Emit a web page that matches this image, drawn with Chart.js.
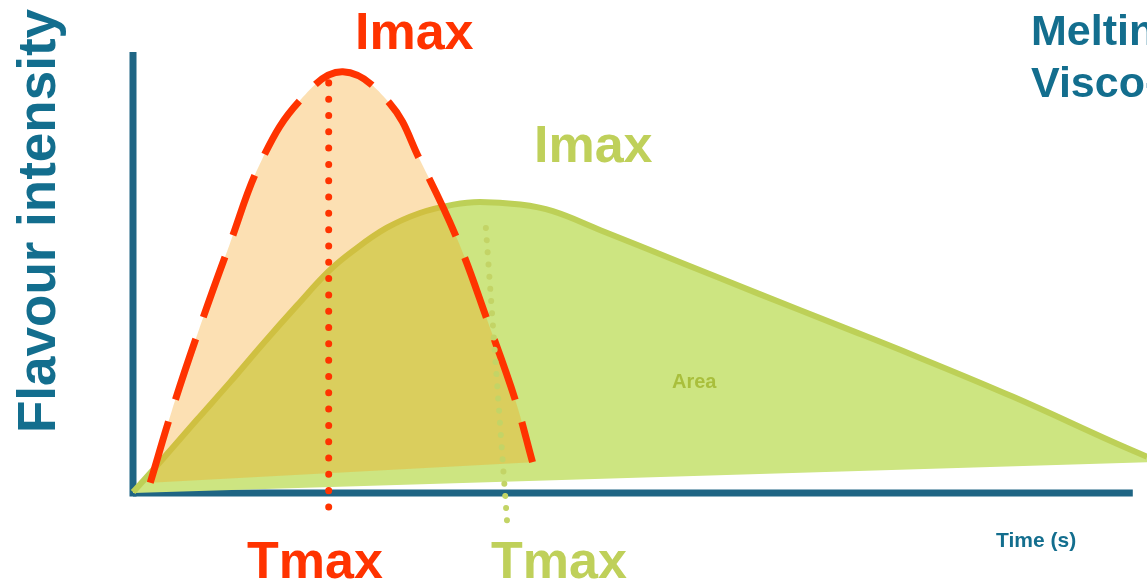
<!DOCTYPE html>
<html>
<head>
<meta charset="utf-8">
<script src="https://cdn.jsdelivr.net/npm/chart.js@4/dist/chart.umd.min.js"></script>
<style>
  html, body { margin: 0; padding: 0; background: #fff; }
  #wrap { width: 1147px; height: 582px; position: relative; }
</style>
</head>
<body>
<div id="wrap"><canvas id="flavourChart" width="1147" height="582"></canvas></div>
<script>
// Temporal profile: two flavour release curves (time vs intensity, arbitrary units 0-100)
const fastTime      = [1.7, 3.8, 6.5, 9.5, 12.7, 16.5, 20.7, 25.3, 28.3, 32.0, 35.0, 37.7, 39.4];
const fastIntensity = [2.3, 18.4, 37.0, 56.2, 75.5, 89.1, 95.5, 88.4, 75.5, 57.4, 38.8, 21.1, 7.0];

const slowTime      = [0, 3.0, 6.3, 9.6, 12.8, 16.2, 19.3, 21.7, 25.0, 28.3, 31.6, 34.2, 38.2, 41.4, 46.1, 53.9, 61.8, 69.7, 76.9, 86.8, 96.6, 100];
const slowIntensity = [0.2, 7.9, 16.6, 25.2, 33.8, 42.6, 50.3, 54.9, 60.1, 63.5, 65.4, 66.0, 65.4, 63.9, 59.6, 52.4, 45.1, 37.9, 31.3, 21.8, 11.6, 8.2];

// straight lines closing each area underneath
const fastBaseTime      = [1.7, 39.4];
const fastBaseIntensity = [2.3, 7.0];
const slowBaseTime      = [0, 100];
const slowBaseIntensity = [0, 7.0];

// Tmax markers (dotted verticals)
const fastTmaxTime = [19.3, 19.3];
const fastTmaxSpan = [93.0, -3.4];
const slowTmaxTime = [34.8, 36.9];
const slowTmaxSpan = [60.1, -6.8];

// axes
const xAxisTime = [0, 98.6];
const xAxisLevel = [0, 0];
const yAxisTime = [0, 0];
const yAxisLevel = [0, 99.2];

const RED = '#ff3300';
const GREEN = '#bfd05a';
const TEAL = '#136e8e';
const AXIS = '#1f6584';
const FONT = '"Liberation Sans", Arial, sans-serif';

const pts = (xs, ys) => xs.map((x, i) => ({ x, y: ys[i] }));

const plain = { pointRadius: 0, fill: false, tension: 0, clip: false };

// texts around the plot
const labelsPlugin = {
  id: 'labels',
  afterDraw(chart) {
    const ctx = chart.ctx;
    ctx.save();
    ctx.textBaseline = 'alphabetic';
    ctx.textAlign = 'left';

    ctx.font = 'bold 52px ' + FONT;
    ctx.fillStyle = RED;
    ctx.fillText('Imax', 355, 49);
    ctx.fillText('Tmax', 247, 578);
    ctx.fillStyle = GREEN;
    ctx.fillText('Imax', 534, 162);
    ctx.fillText('Tmax', 491, 578);

    ctx.font = 'bold 20px ' + FONT;
    ctx.fillStyle = '#a9bf3c';
    ctx.fillText('Area', 672, 388);

    ctx.font = 'bold 21px ' + FONT;
    ctx.fillStyle = TEAL;
    ctx.fillText('Time (s)', 996, 547);

    ctx.font = 'bold 43px ' + FONT;
    ctx.fillText('Melting', 1031, 45);
    ctx.fillText('Visco-', 1031, 97);

    ctx.save();
    ctx.translate(55, 221);
    ctx.rotate(-Math.PI / 2);
    ctx.textAlign = 'center';
    ctx.font = 'bold 53px ' + FONT;
    ctx.fillText('Flavour intensity', 0, 0);
    ctx.restore();

    ctx.restore();
  }
};

new Chart(document.getElementById('flavourChart'), {
  type: 'line',
  data: {
    datasets: [
      { ...plain, order: 0, data: pts(slowTmaxTime, slowTmaxSpan),
        borderColor: '#c3d466', borderWidth: 6, borderDash: [0.01, 12.2], borderCapStyle: 'round' },
      { ...plain, order: 1, data: pts(fastTmaxTime, fastTmaxSpan),
        borderColor: RED, borderWidth: 7, borderDash: [0.01, 16.3], borderCapStyle: 'round' },
      { order: 2, data: pts(fastTime, fastIntensity), pointRadius: 0,
        tension: 0.4, clip: false,
        borderColor: RED, borderWidth: 7, borderDash: [64, 23], borderCapStyle: 'butt',
        backgroundColor: 'rgba(246,160,20,0.32)', fill: { target: 3 } },
      { ...plain, order: 3, data: pts(fastBaseTime, fastBaseIntensity),
        borderWidth: 0, borderColor: 'rgba(0,0,0,0)' },
      { order: 4, data: pts(slowTime, slowIntensity), pointRadius: 0,
        tension: 0.4, clip: false,
        borderColor: '#bdd057', borderWidth: 6,
        backgroundColor: '#cde581', fill: { target: 5 } },
      { ...plain, order: 5, data: pts(slowBaseTime, slowBaseIntensity),
        borderWidth: 0, borderColor: 'rgba(0,0,0,0)' },
      { ...plain, order: 6, data: pts(xAxisTime, xAxisLevel), borderColor: AXIS, borderWidth: 7 },
      { ...plain, order: 7, data: pts(yAxisTime, yAxisLevel), borderColor: AXIS, borderWidth: 7,
        borderCapStyle: 'square' }
    ]
  },
  options: {
    responsive: false,
    animation: false,
    events: [],
    layout: { padding: { left: 133, right: 0, top: 52, bottom: 89 } },
    scales: {
      x: { type: 'linear', min: 0, max: 100, display: false },
      y: { type: 'linear', min: 0, max: 100, display: false }
    },
    plugins: {
      legend: { display: false },
      tooltip: { enabled: false },
      filler: { propagate: false }
    }
  },
  plugins: [labelsPlugin]
});
</script>
</body>
</html>
